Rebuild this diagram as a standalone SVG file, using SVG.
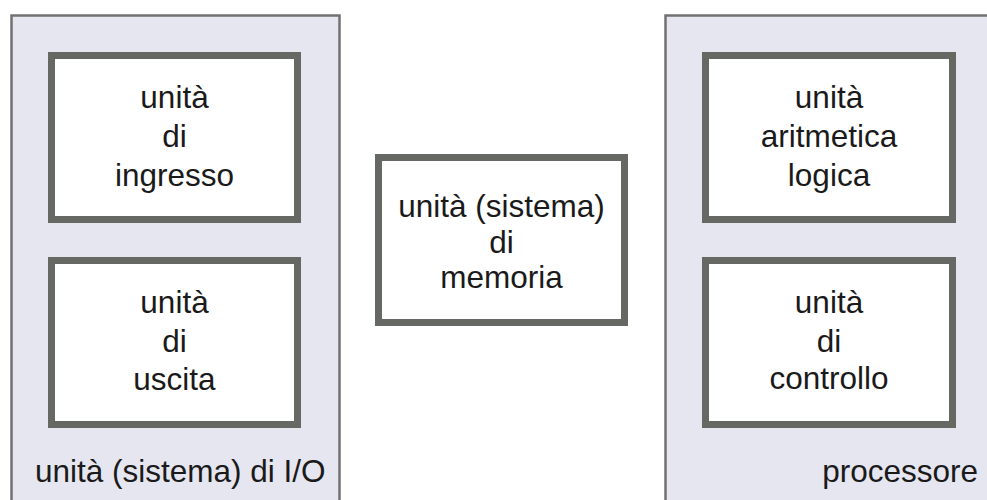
<svg xmlns="http://www.w3.org/2000/svg" width="987" height="500" viewBox="0 0 987 500">
<style>
.panel{fill:#e5e6ef;stroke:#727272;stroke-width:2.5}
.box{fill:#ffffff;stroke:#666864;stroke-width:7}
.t{font-family:"Liberation Sans",Arial,sans-serif;font-size:31.5px;fill:#1a1a1a;text-anchor:middle}
.s{text-anchor:start}
.e{text-anchor:end}
</style>
<rect width="987" height="500" fill="#ffffff"/>
<g id="io-system">
<rect class="panel" x="11.5" y="15.5" width="328" height="500"/>
<text class="t s" x="35" y="482">unità (sistema) di I/O</text>
</g>
<g id="input-unit">
<rect class="box" x="51.5" y="55.5" width="246" height="164"/>
<text class="t" x="174.5" y="108">unità</text>
<text class="t" x="174.5" y="147">di</text>
<text class="t" x="174.5" y="186">ingresso</text>
</g>
<g id="output-unit">
<rect class="box" x="51.5" y="260.5" width="246" height="164"/>
<text class="t" x="174.5" y="313">unità</text>
<text class="t" x="174.5" y="352">di</text>
<text class="t" x="174.5" y="390">uscita</text>
</g>
<g id="memory">
<rect class="box" x="378.5" y="157.5" width="246" height="165"/>
<text class="t" x="501.5" y="217">unità (sistema)</text>
<text class="t" x="501.5" y="253">di</text>
<text class="t" x="501.5" y="288">memoria</text>
</g>
<g id="processor">
<rect class="panel" x="665.5" y="15.5" width="400" height="500"/>
<text class="t e" x="978" y="482">processore</text>
</g>
<g id="alu">
<rect class="box" x="705.5" y="55.5" width="247" height="164"/>
<text class="t" x="829" y="108">unità</text>
<text class="t" x="829" y="147">aritmetica</text>
<text class="t" x="829" y="186">logica</text>
</g>
<g id="control-unit">
<rect class="box" x="705.5" y="260.5" width="247" height="164"/>
<text class="t" x="829" y="313">unità</text>
<text class="t" x="829" y="352">di</text>
<text class="t" x="829" y="389">controllo</text>
</g>
<g id="connectors"></g>
</svg>
